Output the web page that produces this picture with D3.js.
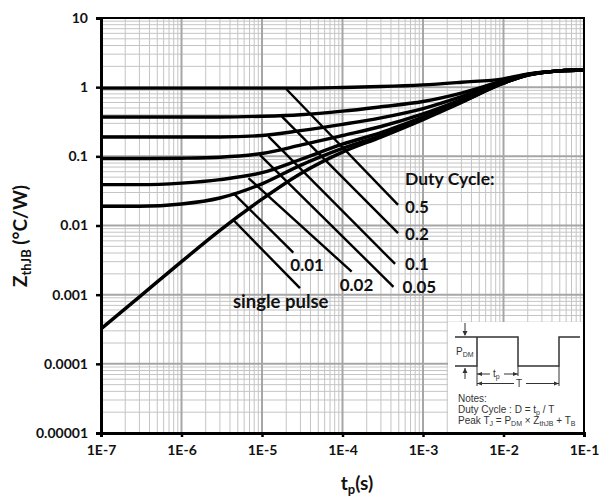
<!DOCTYPE html>
<html>
<head>
<meta charset="utf-8">
<script src="https://cdn.jsdelivr.net/npm/d3@7"></script>
<style>
  body { margin: 0; background: #fff; }
  svg { display: block; }
</style>
</head>
<body>
<svg id="chart" width="602" height="498"></svg>
<script>
// Transient thermal impedance, junction to board, vs. pulse width
const tp       = [1e-7, 3e-7, 1e-6, 3e-6, 1e-5, 3e-5, 1e-4, 3e-4, 1e-3, 3e-3, 1e-2, 2e-2, 3e-2, 5e-2, 1e-1];
const zD050    = [0.97, 0.97, 0.97, 0.97, 0.97, 0.97, 0.99, 1.02, 1.08, 1.18, 1.32, 1.55, 1.64, 1.72, 1.77];
const zD020    = [0.37, 0.37, 0.37, 0.37, 0.38, 0.40, 0.45, 0.52, 0.62, 0.82, 1.24, 1.53, 1.63, 1.72, 1.77];
const zD010    = [0.19, 0.19, 0.19, 0.19, 0.20, 0.235, 0.29, 0.36, 0.49, 0.73, 1.20, 1.52, 1.63, 1.72, 1.77];
const zD005    = [0.093, 0.093, 0.094, 0.097, 0.11, 0.145, 0.20, 0.27, 0.41, 0.66, 1.17, 1.51, 1.62, 1.72, 1.77];
const zD002    = [0.039, 0.039, 0.041, 0.046, 0.058, 0.09, 0.15, 0.22, 0.37, 0.62, 1.15, 1.50, 1.62, 1.72, 1.77];
const zD001    = [0.019, 0.019, 0.0205, 0.025, 0.040, 0.074, 0.13, 0.20, 0.35, 0.61, 1.15, 1.50, 1.62, 1.72, 1.77];
const zSingle  = [0.00032, 0.00093, 0.0030, 0.0085, 0.024, 0.056, 0.115, 0.19, 0.34, 0.60, 1.14, 1.50, 1.62, 1.72, 1.77];

const seriesNames = ["0.5", "0.2", "0.1", "0.05", "0.02", "0.01", "single pulse"];
const seriesZ = [zD050, zD020, zD010, zD005, zD002, zD001, zSingle];

// leader lines from each curve to its label: [tp, Z] at start and end
const leaderFrom = [[2.0e-5, 0.94], [1.76e-5, 0.377], [1.2e-5, 0.194], [9.4e-6, 0.105], [6.8e-6, 0.0484], [4.4e-6, 0.0293], [4.4e-6, 0.012]];
const leaderTo   = [[4.9e-4, 0.0199], [4.9e-4, 0.00774], [4.5e-4, 0.00278], [4.3e-4, 0.0013], [1.3e-4, 0.00215], [2.45e-5, 0.00406], [2.96e-5, 0.00124]];

const xTickValues = [1e-7, 1e-6, 1e-5, 1e-4, 1e-3, 1e-2, 1e-1];
const xTickLabels = ["1E-7", "1E-6", "1E-5", "1E-4", "1E-3", "1E-2", "1E-1"];
const yTickValues = [1e-5, 1e-4, 1e-3, 1e-2, 1e-1, 1, 10];
const yTickLabels = ["0.00001", "0.0001", "0.001", "0.01", "0.1", "1", "10"];

const FONT = "Lato, 'Open Sans', sans-serif";
const svg = d3.select("#chart");

const x = d3.scaleLog().domain([1e-7, 1e-1]).range([101, 584]);
const y = d3.scaleLog().domain([1e-5, 10]).range([433, 18]);
const [x0, x1] = x.range();
const [y0, y1] = [y.range()[1], y.range()[0]];

const isDecade = v => Math.abs(Math.log10(v) - Math.round(Math.log10(v))) < 1e-6;

// grid
const grid = svg.append("g");
const xg = x.ticks();
const yg = y.ticks();
grid.selectAll("line.vx").data(xg.filter(v => !isDecade(v))).join("line")
  .attr("x1", d => x(d)).attr("x2", d => x(d)).attr("y1", y0).attr("y2", y1)
  .attr("stroke", "#c4c4c4").attr("stroke-width", 1);
grid.selectAll("line.hy").data(yg.filter(v => !isDecade(v))).join("line")
  .attr("y1", d => y(d)).attr("y2", d => y(d)).attr("x1", x0).attr("x2", x1)
  .attr("stroke", "#c4c4c4").attr("stroke-width", 1);
grid.selectAll("line.vxM").data(xg.filter(isDecade)).join("line")
  .attr("x1", d => x(d)).attr("x2", d => x(d)).attr("y1", y0).attr("y2", y1)
  .attr("stroke", "#a6a6a6").attr("stroke-width", 2);
grid.selectAll("line.hyM").data(yg.filter(isDecade)).join("line")
  .attr("y1", d => y(d)).attr("y2", d => y(d)).attr("x1", x0).attr("x2", x1)
  .attr("stroke", "#a6a6a6").attr("stroke-width", 2);

// notes box with the pulse train
const inset = svg.append("g").attr("transform", "translate(448,322)");
inset.append("rect").attr("width", 136).attr("height", 111).attr("fill", "#fff");
const ink = "#333";
inset.append("path")
  .attr("d", "M7,44 H29 V15 H70 V44 H111 V15 H132 M7,15 H29")
  .attr("fill", "none").attr("stroke", ink).attr("stroke-width", 1.5);
inset.append("path")
  .attr("d", "M29,44 V64 M70,44 V54 M111,44 V64")
  .attr("fill", "none").attr("stroke", ink).attr("stroke-width", 1);
inset.append("path")
  .attr("d", "M17,1 V13 M17,46 V57 M29,52 H42 M56,52 H70 M29,61.5 H66 M78,61.5 H111")
  .attr("fill", "none").attr("stroke", ink).attr("stroke-width", 1);
// arrow heads
inset.append("path")
  .attr("d", "M14.5,9 L17,14 L19.5,9 Z M14.5,51 L17,46 L19.5,51 Z M29,52 L34,50 L34,54 Z M70,52 L65,50 L65,54 Z M29,61.5 L34,59.5 L34,63.5 Z M111,61.5 L106,59.5 L106,63.5 Z")
  .attr("fill", ink);
const small = { "font-family": "'Liberation Sans', Arial, sans-serif", "font-size": "10px", fill: ink };
function addText(g, xx, yy, parts, anchor) {
  const t = g.append("text").attr("x", xx).attr("y", yy).attr("text-anchor", anchor || "start");
  Object.entries(small).forEach(([k, v]) => t.attr(k, v));
  parts.forEach(p => {
    const s = t.append("tspan").text(p[0]);
    if (p[1]) s.attr("font-size", "7px").attr("dy", 2);
    if (p[2]) s.attr("dy", -2);
  });
  return t;
}
addText(inset, 8, 33, [["P"], ["DM", true], ["", false, true]]);
addText(inset, 45, 55, [["t"], ["p", true], ["", false, true]]);
addText(inset, 68, 65, [["T"]]);
addText(inset, 10, 80, [["Notes:"]]);
addText(inset, 10, 91, [["Duty Cycle : D = t"], ["p", true], [" / T", false, true]]);
addText(inset, 10, 102, [["Peak T"], ["J", true], [" = P", false, true], ["DM", true], [" × Z", false, true], ["thJB", true], ["  + T", false, true], ["B", true]]);

// curves
const line = d3.line().x(d => x(d[0])).y(d => y(d[1])).curve(d3.curveMonotoneX);
svg.append("g").selectAll("path").data(seriesZ).join("path")
  .attr("d", zs => line(tp.map((t, i) => [t, zs[i]])))
  .attr("fill", "none").attr("stroke", "#000").attr("stroke-width", 3.4)
  .attr("stroke-linejoin", "round");

// leaders
svg.append("g").selectAll("line").data(seriesNames).join("line")
  .attr("x1", (d, i) => x(leaderFrom[i][0])).attr("y1", (d, i) => y(leaderFrom[i][1]))
  .attr("x2", (d, i) => x(leaderTo[i][0])).attr("y2", (d, i) => y(leaderTo[i][1]))
  .attr("stroke", "#000").attr("stroke-width", 2.4);

// series labels, placed beside the leader ends
const labelOffset = [[7, 2], [7, 0], [10, 0], [9, 0], [-12, 13], [-3, 12], [-67, 13]];
const labelSize = ["17px", "17px", "17px", "17px", "17px", "17px", "18.5px"];
const labelG = svg.append("g").attr("font-family", FONT).attr("font-weight", 700).attr("fill", "#111");
labelG.selectAll("text").data(seriesNames).join("text")
  .attr("x", (d, i) => x(leaderTo[i][0]) + labelOffset[i][0])
  .attr("y", (d, i) => y(leaderTo[i][1]) + labelOffset[i][1])
  .attr("font-size", (d, i) => labelSize[i])
  .attr("dominant-baseline", "central")
  .text(d => d);
labelG.append("text")
  .attr("x", x(leaderTo[0][0]) + 7).attr("y", y(leaderTo[0][1]) - 26)
  .attr("dominant-baseline", "central").attr("font-size", "17.5px")
  .text("Duty Cycle:");

// frame
svg.append("rect").attr("x", x0).attr("y", y0).attr("width", x1 - x0).attr("height", y1 - y0)
  .attr("fill", "none").attr("stroke", "#000").attr("stroke-width", 2);

// axes
const yAxis = d3.axisLeft(y).tickValues(yTickValues).tickFormat((d, i) => yTickLabels[i]).tickSize(5).tickPadding(8);
const xAxis = d3.axisBottom(x).tickValues(xTickValues).tickFormat((d, i) => xTickLabels[i]).tickSize(4).tickPadding(8);
const gy = svg.append("g").attr("transform", `translate(${x0},0)`).call(yAxis);
const gx = svg.append("g").attr("transform", `translate(0,${y1})`).call(xAxis);
[gy, gx].forEach(g => {
  g.select(".domain").attr("stroke", "#000").attr("stroke-width", 3);
  g.selectAll(".tick line").attr("stroke", "#000").attr("stroke-width", 2.5);
  g.selectAll(".tick text").attr("font-family", FONT).attr("font-weight", 700)
    .attr("font-size", "14px").attr("fill", "#111");
});

// axis titles
const xt = svg.append("text").attr("x", 357).attr("y", 490).attr("text-anchor", "middle")
  .attr("font-family", FONT).attr("font-weight", 700).attr("font-size", "19px").attr("fill", "#111");
xt.append("tspan").text("t");
xt.append("tspan").text("p").attr("font-size", "13px").attr("dy", 4);
xt.append("tspan").text("(s)").attr("dy", -4);

const yt = svg.append("text").attr("transform", "translate(27,236) rotate(-90)").attr("text-anchor", "middle")
  .attr("font-family", FONT).attr("font-weight", 700).attr("font-size", "19px").attr("fill", "#111");
yt.append("tspan").text("Z");
yt.append("tspan").text("thJB").attr("font-size", "13px").attr("dy", 4);
yt.append("tspan").text(" (°C/W)").attr("dy", -4);
</script>
</body>
</html>
